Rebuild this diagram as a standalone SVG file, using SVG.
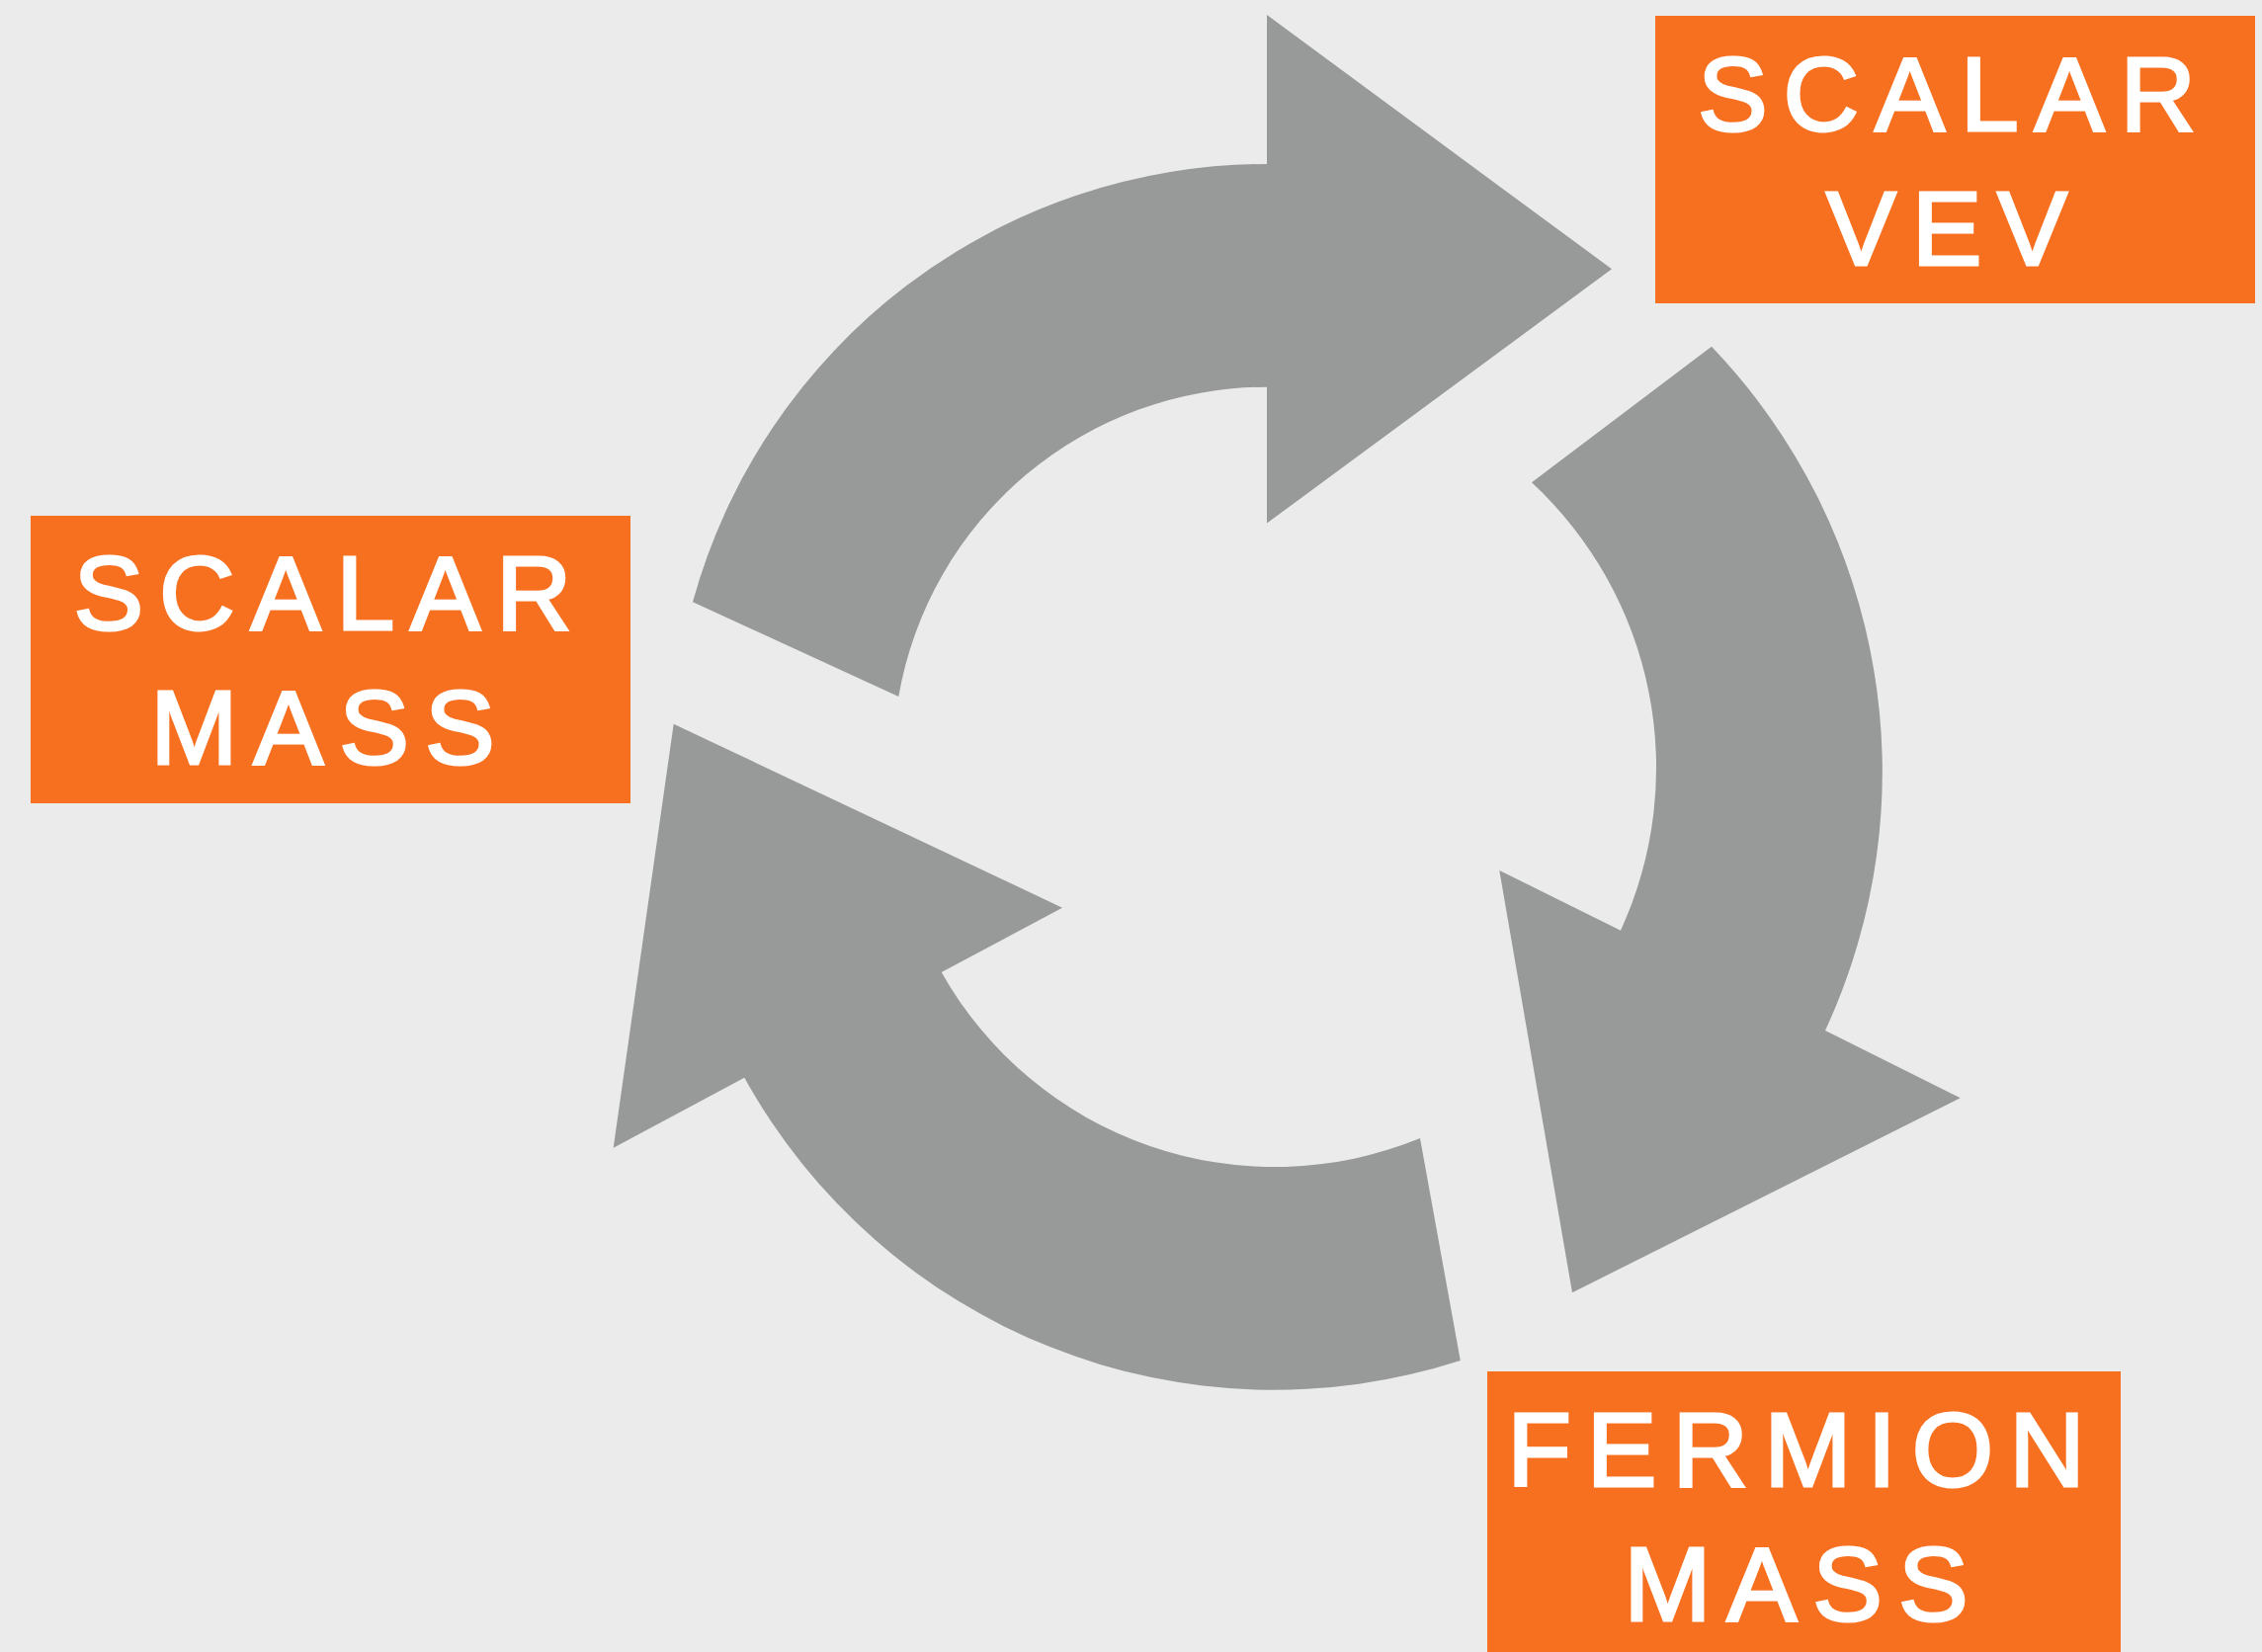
<svg xmlns="http://www.w3.org/2000/svg" width="2289" height="1672" viewBox="0 0 2289 1672">
  <style>
    .arrow { fill: #979a98; stroke: none; }
    .box { fill: #f77020; stroke: none; }
    .label { font-family: "Liberation Sans", Arial, Helvetica, sans-serif; font-size: 106px; fill: #ffffff; stroke: #ffffff; stroke-width: 3px; stroke-linejoin: miter; text-anchor: middle; letter-spacing: 16px; }
  </style>

  <rect x="0" y="0" width="2289" height="1672" fill="#ebebeb"/>

  <!-- curved cycle arrows -->
  <g id="connectors">
    <!-- top arrow, pointing right towards SCALAR VEV -->
    <path id="arrow-top" class="arrow" d="M 701 609.3 A 603 603 0 0 1 1282 166 L 1282 15 L 1631 272.3 L 1282 529.6 L 1282 391.7 A 378 378 0 0 0 909.3 705 Z"/>
    <!-- right arrow, pointing down towards FERMION MASS -->
    <path id="arrow-right" class="arrow" d="M 1732 350.8 A 622 622 0 0 1 1847 1043 L 1983.7 1111.2 L 1591 1308.3 L 1517.3 881 L 1640 941.7 A 394 394 0 0 0 1550 488.3 Z"/>
    <!-- bottom arrow, pointing up towards SCALAR MASS -->
    <path id="arrow-bottom" class="arrow" d="M 1477.8 1377 A 612.5 612.5 0 0 1 753.3 1090.7 L 620.7 1161.7 L 681.7 732.7 L 1075 918.7 L 952.7 984 A 387 387 0 0 0 1437 1152 Z"/>
  </g>

  <g id="node-scalar-vev">
    <rect class="box" x="1675" y="16" width="607" height="291"/>
    <text class="label" x="1978" y="132">SCALAR</text>
    <text class="label" x="1978" y="268">VEV</text>
  </g>

  <g id="node-scalar-mass">
    <rect class="box" x="31" y="522" width="607" height="291"/>
    <text class="label" x="334.5" y="637">SCALAR</text>
    <text class="label" x="334.5" y="773">MASS</text>
  </g>

  <g id="node-fermion-mass">
    <rect class="box" x="1505" y="1388" width="641" height="284"/>
    <text class="label" x="1825.5" y="1504">FERMION</text>
    <text class="label" x="1825.5" y="1640">MASS</text>
  </g>
</svg>
